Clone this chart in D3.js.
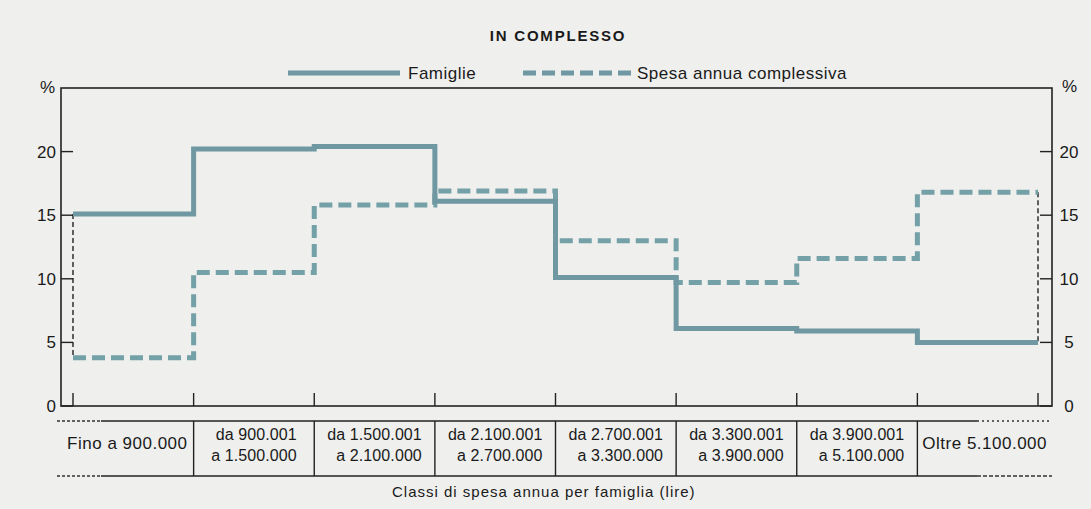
<!DOCTYPE html>
<html>
<head>
    <meta charset="utf-8"/>
    <title>In complesso</title>
    <script src="https://d3js.org/d3.v7.min.js"></script>
</head>
<style>
    body { margin: 0; background: #efefed; }
    svg text { font-family: "Liberation Sans", Arial, sans-serif; fill: #1a1a1a; }
</style>
<body>

<svg id="chart" width="1091" height="509"></svg>

<script type="text/javascript">

    // data
    var classi = [
        ["Fino a 900.000"],
        ["da 900.001", "a 1.500.000"],
        ["da 1.500.001", "a 2.100.000"],
        ["da 2.100.001", "a 2.700.000"],
        ["da 2.700.001", "a 3.300.000"],
        ["da 3.300.001", "a 3.900.000"],
        ["da 3.900.001", "a 5.100.000"],
        ["Oltre 5.100.000"]
    ];
    var famiglie = [15.1, 20.2, 20.4, 16.1, 10.1, 6.1, 5.9, 5.0];
    var spesa = [3.8, 10.5, 15.8, 16.9, 13.0, 9.7, 11.6, 16.8];
    var yTicks = [0, 5, 10, 15, 20];

    var svg = d3.select("#chart");
    var pLeft = 61, pRight = 1052, pTop = 88, pBottom = 406;
    var lineColor = "#6f98a2";

    var x = d3.scaleLinear().domain([0, classi.length]).range([73, 1038]);
    var y = d3.scaleLinear().domain([0, 25]).range([pBottom, pTop]);

    // title
    svg.append("text")
            .attr("x", 558).attr("y", 41)
            .attr("text-anchor", "middle")
            .attr("font-size", 15).attr("font-weight", "bold")
            .attr("letter-spacing", 1.8)
            .text("IN COMPLESSO");

    // legend
    var legend = [
        {label: "Famiglie", x1: 288, x2: 400, gap: 8, dash: null},
        {label: "Spesa annua complessiva", x1: 523, x2: 635, gap: 2, dash: "13,6"}
    ];
    legend.forEach(function (d) {
        svg.append("line")
                .attr("x1", d.x1).attr("x2", d.x2)
                .attr("y1", 73).attr("y2", 73)
                .attr("stroke", lineColor).attr("stroke-width", 5)
                .attr("stroke-dasharray", d.dash);
        svg.append("text")
                .attr("x", d.x2 + d.gap).attr("y", 79)
                .attr("font-size", 17).attr("letter-spacing", 0.5)
                .text(d.label);
    });

    // frame
    svg.append("rect")
            .attr("x", pLeft).attr("y", pTop)
            .attr("width", pRight - pLeft).attr("height", pBottom - pTop)
            .attr("fill", "none").attr("stroke", "#222").attr("stroke-width", 1.6);

    svg.append("text").attr("x", 40).attr("y", 93).attr("font-size", 17).text("%");
    svg.append("text").attr("x", 1062).attr("y", 92).attr("font-size", 17).text("%");

    // y ticks, both sides, pointing inwards
    yTicks.forEach(function (t) {
        svg.append("line")
                .attr("x1", pLeft).attr("x2", pLeft + 12)
                .attr("y1", y(t)).attr("y2", y(t))
                .attr("stroke", "#222").attr("stroke-width", 1.4);
        svg.append("line")
                .attr("x1", pRight - 12).attr("x2", pRight)
                .attr("y1", y(t)).attr("y2", y(t))
                .attr("stroke", "#222").attr("stroke-width", 1.4);
        svg.append("text")
                .attr("x", 56).attr("y", y(t) + 6)
                .attr("text-anchor", "end").attr("font-size", 17)
                .text(t);
        svg.append("text")
                .attr("x", 1069).attr("y", y(t) + 6)
                .attr("text-anchor", "middle").attr("font-size", 17)
                .text(t);
    });

    // x ticks at class boundaries
    d3.range(classi.length + 1).forEach(function (i) {
        svg.append("line")
                .attr("x1", x(i)).attr("x2", x(i))
                .attr("y1", pBottom).attr("y2", pBottom - 13)
                .attr("stroke", "#222").attr("stroke-width", 1.4);
    });

    // thin dashed connectors at both ends
    [0, classi.length - 1].forEach(function (i) {
        var xi = i === 0 ? x(0) : x(classi.length);
        svg.append("line")
                .attr("x1", xi).attr("x2", xi)
                .attr("y1", y(Math.max(famiglie[i], spesa[i])))
                .attr("y2", y(Math.min(famiglie[i], spesa[i])))
                .attr("stroke", "#222").attr("stroke-width", 1.4)
                .attr("stroke-dasharray", "5,3");
    });

    // step lines
    var step = d3.line()
            .x(function (d) { return x(d[0]); })
            .y(function (d) { return y(d[1]); })
            .curve(d3.curveStepAfter);

    function points(values) {
        var p = values.map(function (v, i) { return [i, v]; });
        p.push([values.length, values[values.length - 1]]);
        return p;
    }

    svg.append("path")
            .attr("d", step(points(spesa)))
            .attr("fill", "none").attr("stroke", "#74a0a7")
            .attr("stroke-width", 5).attr("stroke-dasharray", "13,6");

    svg.append("path")
            .attr("d", step(points(famiglie)))
            .attr("fill", "none").attr("stroke", lineColor)
            .attr("stroke-width", 5);

    // table of classes
    var tTop = 421, tBottom = 476;
    var cellEdges = [pLeft].concat(d3.range(1, classi.length).map(x)).concat([pRight]);

    [tTop, tBottom].forEach(function (ty, k) {
        svg.append("line")
                .attr("x1", pLeft - 4).attr("x2", pLeft + 40).attr("y1", ty).attr("y2", ty)
                .attr("stroke", "#333").attr("stroke-width", 1.3).attr("stroke-dasharray", "3,2");
        svg.append("line")
                .attr("x1", pLeft + 40).attr("x2", pRight - 75).attr("y1", ty).attr("y2", ty)
                .attr("stroke", "#222").attr("stroke-width", 1.6);
        svg.append("line")
                .attr("x1", pRight - 75).attr("x2", pRight).attr("y1", ty).attr("y2", ty)
                .attr("stroke", "#333").attr("stroke-width", 1.3)
                .attr("stroke-dasharray", k === 0 ? "2,3" : "4,2");
    });

    d3.range(1, classi.length).forEach(function (i) {
        svg.append("line")
                .attr("x1", x(i)).attr("x2", x(i))
                .attr("y1", tTop).attr("y2", tBottom)
                .attr("stroke", "#222").attr("stroke-width", 1.4);
    });

    classi.forEach(function (lines, i) {
        var cx = (cellEdges[i] + cellEdges[i + 1]) / 2;
        var g = svg.append("g");
        var single = lines.length === 1;
        var texts = lines.map(function (s, j) {
            return g.append("text")
                    .attr("y", single ? 449 : 440 + j * 21)
                    .attr("font-size", single ? 17 : 16)
                    .attr("letter-spacing", single ? 0.5 : 0.1)
                    .text(s);
        });
        var w = d3.max(texts, function (t) { return t.node().getComputedTextLength(); });
        texts.forEach(function (t) {
            t.attr("x", cx + w / 2).attr("text-anchor", "end");
        });
    });

    svg.append("text")
            .attr("x", 392).attr("y", 497)
            .attr("font-size", 15).attr("letter-spacing", 1.0)
            .text("Classi di spesa annua per famiglia (lire)");
</script>
</body>
</html>
